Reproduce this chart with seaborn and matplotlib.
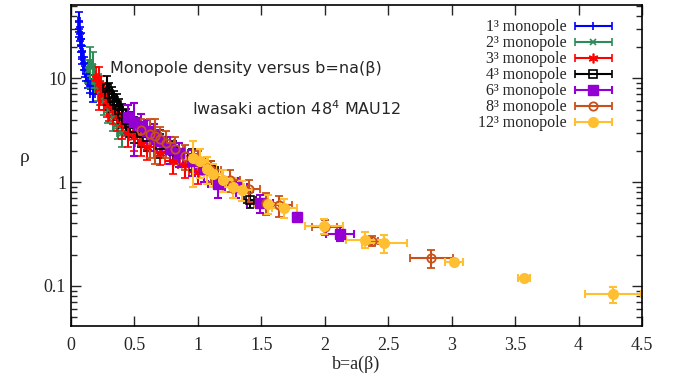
import matplotlib
matplotlib.use("Agg")
import matplotlib.pyplot as plt
import matplotlib.ticker as mticker
from matplotlib.container import ErrorbarContainer
from matplotlib.legend_handler import HandlerErrorbar
import numpy as np
import seaborn as sns

# 1^3 monopole
x1 = [0.06, 0.065, 0.07, 0.075, 0.08, 0.085, 0.09, 0.10, 0.11, 0.12, 0.13, 0.15, 0.17]
y1 = [36, 30, 27, 24, 21, 18, 16, 14, 12, 11, 9.5, 8.5, 7.0]
ey1 = [8, 5, 4, 3.5, 3, 2.5, 2.2, 2, 1.8, 1.6, 1.4, 1.3, 1.1]
ex1 = [0.008, 0.008, 0.008, 0.008, 0.01, 0.01, 0.01, 0.012, 0.012, 0.012, 0.015, 0.015, 0.02]

# 2^3 monopole
x2 = [0.13, 0.15, 0.17, 0.19, 0.21, 0.23, 0.26, 0.29, 0.33, 0.37, 0.40]
y2 = [12, 14, 13, 10, 8.5, 7.5, 6.0, 5.0, 4.2, 3.5, 3.0]
ey2 = [3, 6, 5, 3, 2.5, 2, 1.6, 1.3, 1.1, 0.9, 0.8]
ex2 = [0.015, 0.015, 0.02, 0.02, 0.02, 0.025, 0.025, 0.03, 0.03, 0.035, 0.04]

# 3^3 monopole
x3 = [0.20, 0.22, 0.24, 0.26, 0.28, 0.30, 0.33, 0.36, 0.40, 0.45, 0.50, 0.55, 0.60, 0.70, 0.80, 0.90, 1.00]
y3 = [10, 9.0, 8.0, 7.0, 6.0, 5.5, 5.0, 4.3, 3.6, 3.0, 2.7, 2.4, 2.2, 1.9, 1.6, 1.45, 1.25]
ey3 = [3, 4, 2.5, 2, 1.8, 1.6, 1.4, 1.2, 1.0, 0.8, 0.7, 0.6, 0.55, 0.45, 0.4, 0.35, 0.3]
ex3 = [0.02, 0.02, 0.02, 0.025, 0.025, 0.03, 0.03, 0.03, 0.035, 0.04, 0.04, 0.045, 0.05, 0.05, 0.06, 0.06, 0.07]

# 4^3 monopole
x4 = [0.28, 0.30, 0.32, 0.34, 0.36, 0.38, 0.40, 0.43, 0.46, 0.50, 0.55, 0.60, 0.70, 0.80, 0.95, 1.10, 1.41]
y4 = [8.0, 7.0, 6.5, 6.0, 5.5, 5.0, 4.5, 4.0, 3.7, 3.3, 3.0, 2.7, 2.3, 2.0, 1.7, 1.3, 0.68]
ey4 = [2.5, 2.0, 1.8, 1.6, 1.5, 1.4, 1.2, 1.1, 1.0, 0.9, 0.8, 0.7, 0.6, 0.5, 0.4, 0.3, 0.12]
ex4 = [0.02, 0.02, 0.025, 0.025, 0.025, 0.03, 0.03, 0.03, 0.035, 0.035, 0.04, 0.04, 0.05, 0.05, 0.06, 0.06, 0.05]

# 6^3 monopole
x6 = [0.45, 0.50, 0.55, 0.60, 0.65, 0.70, 0.78, 0.85, 0.95, 1.05, 1.16, 1.30, 1.49, 1.78, 2.12]
y6 = [4.2, 3.8, 3.5, 3.1, 2.8, 2.5, 2.1, 1.9, 1.6, 1.35, 0.95, 0.90, 0.63, 0.46, 0.32]
ey6 = [1.3, 2.0, 1.0, 0.9, 0.8, 0.7, 0.6, 0.5, 0.45, 0.35, 0.25, 0.2, 0.12, 0.04, 0.05]
ex6 = [0.04, 0.04, 0.05, 0.05, 0.05, 0.06, 0.06, 0.07, 0.07, 0.08, 0.08, 0.09, 0.1, 0.03, 0.11]

# 8^3 monopole
x8 = [0.55, 0.62, 0.66, 0.70, 0.75, 0.82, 0.90, 1.00, 1.10, 1.25, 1.40, 1.54, 1.64, 2.00, 2.37, 2.84]
y8 = [3.2, 2.9, 2.8, 2.6, 2.4, 2.1, 1.8, 1.6, 1.3, 1.05, 0.85, 0.63, 0.60, 0.37, 0.27, 0.185]
ey8 = [0.9, 1.2, 1.3, 0.8, 0.7, 0.6, 0.5, 0.4, 0.3, 0.25, 0.2, 0.15, 0.14, 0.06, 0.03, 0.035]
ex8 = [0.04, 0.05, 0.05, 0.05, 0.06, 0.06, 0.07, 0.07, 0.08, 0.08, 0.09, 0.1, 0.1, 0.1, 0.05, 0.17]

# 12^3 monopole
x12 = [0.96, 1.02, 1.07, 1.12, 1.20, 1.28, 1.35, 1.55, 1.68, 1.99, 2.32, 2.47, 3.02, 3.57, 4.27]
y12 = [1.7, 1.6, 1.35, 1.2, 1.05, 0.90, 0.84, 0.62, 0.57, 0.38, 0.28, 0.26, 0.17, 0.12, 0.083]
ey12 = [0.8, 0.5, 0.4, 0.3, 0.25, 0.2, 0.18, 0.13, 0.12, 0.06, 0.05, 0.05, 0.012, 0.006, 0.015]
ex12 = [0.06, 0.06, 0.07, 0.07, 0.07, 0.08, 0.08, 0.1, 0.1, 0.15, 0.15, 0.18, 0.07, 0.05, 0.22]

labels = ["1³ monopole", "2³ monopole", "3³ monopole", "4³ monopole",
          "6³ monopole", "8³ monopole", "12³ monopole"]

sns.set_theme(style="ticks")
plt.rcParams["font.family"] = ["DejaVu Sans"]
serif = "Liberation Serif"

fig = plt.figure(figsize=(6.83, 3.81), dpi=100)
ax = fig.add_axes([0.104, 0.144, 0.836, 0.843])

series = [
    (x1, y1, ex1, ey1, "#0000ff", dict(marker="+", ms=6, mew=1.2)),
    (x2, y2, ex2, ey2, "#2e8b57", dict(marker="x", ms=5, mew=1.2)),
    (x3, y3, ex3, ey3, "#ff0000", dict(marker=(6, 2, 0), ms=7, mew=1.2)),
    (x4, y4, ex4, ey4, "#000000", dict(marker="s", ms=6, mfc="none", mew=1.2)),
    (x6, y6, ex6, ey6, "#9400d3", dict(marker="s", ms=7)),
    (x8, y8, ex8, ey8, "#c8501a", dict(marker="o", ms=6, mfc="none", mew=1.3)),
    (x12, y12, ex12, ey12, "#ffbf30", dict(marker="o", ms=7)),
]

handles = []
for (xs, ys, exs, eys, c, mk), lab in zip(series, labels):
    ax.errorbar(xs, ys, xerr=exs, yerr=eys, color=c, ecolor=c, elinewidth=1.5,
                capsize=3, capthick=1.5, ls="none", **mk)
    # legend proxy: horizontal bar with caps only
    h = ax.errorbar([np.nan], [np.nan], xerr=[np.nan], color=c, ecolor=c,
                    elinewidth=1.5, capsize=3, capthick=1.5, ls="none",
                    label=lab, **mk)
    handles.append(h)

ax.set_yscale("log")
ax.set_xlim(0, 4.5)
ax.set_ylim(0.041, 51)
ax.xaxis.set_major_locator(mticker.MultipleLocator(0.5))
ax.xaxis.set_major_formatter(mticker.FuncFormatter(lambda v, p: "%g" % v))
ax.yaxis.set_major_locator(mticker.FixedLocator([0.1, 1, 10]))
ax.yaxis.set_major_formatter(mticker.FixedFormatter(["0.1", "1", "10"]))
ax.yaxis.set_minor_locator(mticker.LogLocator(subs=range(2, 10)))
ax.yaxis.set_minor_formatter(mticker.NullFormatter())
ax.tick_params(which="both", direction="in", top=True, right=True, labelsize=13)
ax.tick_params(which="major", length=7, width=1)
ax.tick_params(which="minor", length=4, width=1)
ax.tick_params(axis="x", pad=8)
for lbl in ax.get_xticklabels() + ax.get_yticklabels():
    lbl.set_family(serif)
for sp in ax.spines.values():
    sp.set_linewidth(1.2)
    sp.set_color("black")

ax.set_xlabel("b=a(β)", family=serif, fontsize=13, labelpad=1)
ax.set_ylabel("ρ", family=serif, fontsize=14, rotation=0, labelpad=14)

ax.text(0.31, 12.5, "Monopole density versus b=na(β)", fontsize=11.5, va="center")
ax.text(0.95, 5.1, "Iwasaki action 48$^4$ MAU12", fontsize=11.5, va="center")

leg = ax.legend(handles=handles, labels=labels, loc="upper right",
                bbox_to_anchor=(0.965, 0.985), frameon=False,
                markerfirst=False, prop={"family": [serif, "DejaVu Serif"], "size": 11.5},
                handlelength=2.4, handletextpad=0.5, labelspacing=0.0,
                borderaxespad=0.2, handleheight=0.6,
                handler_map={ErrorbarContainer: HandlerErrorbar(xerr_size=1.15)})

fig.savefig("out.png", dpi=100)
